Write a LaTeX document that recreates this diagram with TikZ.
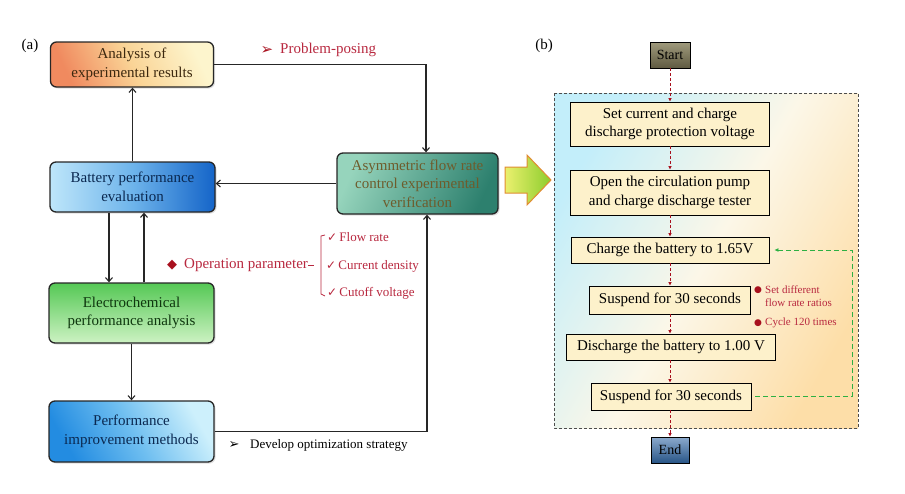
\documentclass[tikz,border=0pt]{standalone}
\usepackage{fontspec}
\setmainfont{Liberation Serif}
\newfontfamily\symf{DejaVu Sans}
\usetikzlibrary{arrows.meta,shadows,calc}
\definecolor{redtxt}{HTML}{B8283F}
\definecolor{dred}{HTML}{A8101E}
\definecolor{gdash}{HTML}{2DB043}
\definecolor{boxy}{HTML}{FDF1CB}
\newcommand\chkm{{\symf\fontsize{12}{12}\selectfont ✓}}
\begin{document}
\begin{tikzpicture}[x=1pt,y=-1pt,
  lbox/.style={draw=black!85, line width=1.3pt, rounded corners=6pt, align=center,
    font=\fontsize{15}{18.5}\selectfont, inner sep=2pt,
    drop shadow={opacity=0.25, shadow xshift=1.5pt, shadow yshift=-1.5pt}},
  rbox/.style={draw=black, line width=0.8pt, fill=boxy, align=center,
    font=\fontsize{15}{18.5}\selectfont, inner sep=2pt},
  arr/.style={draw=black!85, line width=1.1pt, -{Straight Barb[length=4pt,width=7pt]}},
  rarr/.style={draw=dred, line width=1pt, dash pattern=on 3pt off 2pt, -{Latex[length=3.5pt,width=3.5pt]}},
  garr/.style={draw=gdash, line width=1pt, dash pattern=on 5pt off 3pt, -{Latex[length=4pt,width=4pt]}},
  side/.style={font=\fontsize{13}{15}\selectfont, inner sep=0pt},
  lab/.style={font=\fontsize{15}{18}\selectfont, inner sep=0pt}]
\useasboundingbox (0,0) rectangle (905,493);

% ---------- panel (a) ----------
\node[lab] (la) at (30,46) {(a)};

\node[lbox, minimum width=163pt, minimum height=45pt, text={rgb,255:red,60;green,40;blue,15},
  left color={rgb,255:red,240;green,138;blue,95}, right color={rgb,255:red,253;green,245;blue,205},
  middle color={rgb,255:red,250;green,212;blue,150}, shading angle=115] (A) at (132,64.5)
  {Analysis of\\experimental results};
\node[lbox, minimum width=165pt, minimum height=50pt, text={rgb,255:red,10;green,40;blue,80},
  left color={rgb,255:red,190;green,230;blue,250}, right color={rgb,255:red,20;green,100;blue,200},
  middle color={rgb,255:red,110;green,180;blue,235}] (B) at (132.5,187)
  {Battery performance\\evaluation};
\node[lbox, minimum width=165pt, minimum height=60pt, text={rgb,255:red,15;green,55;blue,15},
  top color={rgb,255:red,85;green,200;blue,85}, bottom color={rgb,255:red,205;green,242;blue,195}] (C) at (131.5,313)
  {Electrochemical\\performance analysis};
\node[lbox, minimum width=165pt, minimum height=61pt, text={rgb,255:red,10;green,40;blue,80},
  left color={rgb,255:red,35;green,140;blue,225}, right color={rgb,255:red,205;green,240;blue,252},
  middle color={rgb,255:red,110;green,190;blue,240}, shading angle=120] (D) at (131.5,431.5)
  {Performance\\improvement methods};
\node[lbox, minimum width=161pt, minimum height=61pt, text={rgb,255:red,110;green,92;blue,44},
  left color={rgb,255:red,150;green,212;blue,188}, right color={rgb,255:red,45;green,128;blue,110}, shading angle=65] (E) at (417.5,183.5)
  {Asymmetric flow rate\\control experimental\\verification};

\draw[arr] (B.north) -- (B.north |- A.south);
\draw[arr] (A.east) -| ([xshift=8.5pt]E.north);
\draw[arr] (E.west) -- (E.west -| B.east);
\draw[arr] ([xshift=-23.5pt]B.south) -- ([xshift=-23.5pt]B.south |- C.north);
\draw[arr] ([xshift=12.5pt]C.north) -- ([xshift=12.5pt]C.north |- B.south);
\draw[arr] (C.south) -- (D.north);
\draw[arr] (D.east) -| ([xshift=9.5pt]E.south);

\node[lab, text=redtxt, anchor=west] (pp) at (280,50) {Problem-posing};
\node[inner sep=0pt, text=dred, font=\symf\fontsize{15}{15}\selectfont] (ppa) at (267,50) {➢};
\node[side, anchor=west] (dos) at (250,445) {Develop optimization strategy};
\node[inner sep=0pt, font=\symf\fontsize{13}{13}\selectfont] (dosa) at (234,445) {➢};

\node[inner sep=0pt, text=dred, font=\symf\fontsize{13}{13}\selectfont] (dia) at (172,265) {◆};
\node[lab, text=redtxt, anchor=west] (op) at (184,265) {Operation parameter};
\draw[redtxt, line width=0.8pt] (op.east) -- ++(6,0);
\draw[redtxt, line width=0.8pt] (325,235) -- (321,236) -- (321,294) -- (325,296);
\node[side, text=redtxt, anchor=west] (f1) at (327,237) {\chkm\,Flow rate};
\node[side, text=redtxt, anchor=west] (f2) at (326,266) {\chkm\,Current density};
\node[side, text=redtxt, anchor=west] (f3) at (327,293) {\chkm\,Cutoff voltage};

% big arrow
\draw[draw={rgb,255:red,225;green,140;blue,50}, line width=1pt,
  left color={rgb,255:red,235;green,240;blue,110}, right color={rgb,255:red,140;green,205;blue,45}]
  (505,167) -- (527,167) -- (527,155) -- (551,180) -- (527,205) -- (527,193) -- (505,193) -- cycle;

% ---------- panel (b) ----------
\node[lab] (lb) at (544,46) {(b)};
\draw[draw=black!70, line width=0.8pt, dash pattern=on 3pt off 2pt,
  left color={rgb,255:red,195;green,238;blue,250}, right color={rgb,255:red,253;green,222;blue,168},
  middle color={rgb,255:red,252;green,247;blue,232}, shading angle=60]
  (554,93) rectangle (858,428);

\node[draw=black, line width=0.8pt, minimum width=40pt, minimum height=26pt, inner sep=1pt,
  top color={rgb,255:red,160;green,155;blue,125}, bottom color={rgb,255:red,95;green,90;blue,65},
  font=\fontsize{14}{16}\selectfont] (S) at (670,55) {Start};
\node[rbox, minimum width=199pt, minimum height=44pt] (B1) at (670,124) {Set current and charge\\discharge protection voltage};
\node[rbox, minimum width=199pt, minimum height=45pt] (B2) at (670,192.5) {Open the circulation pump\\and charge discharge tester};
\node[rbox, minimum width=198pt, minimum height=26pt] (B3) at (670,250) {Charge the battery to 1.65V};
\node[rbox, minimum width=161pt, minimum height=28pt] (B4) at (670,300) {Suspend for 30 seconds};
\node[rbox, minimum width=209pt, minimum height=26pt] (B5) at (671,347) {Discharge the battery to 1.00 V};
\node[rbox, minimum width=160pt, minimum height=27pt] (B6) at (671,396.5) {Suspend for 30 seconds};
\node[draw=black, line width=0.8pt, minimum width=38pt, minimum height=26pt, inner sep=1pt,
  top color={rgb,255:red,140;green,170;blue,205}, bottom color={rgb,255:red,40;green,85;blue,135},
  font=\fontsize{14}{16}\selectfont] (En) at (670,450) {End};

\draw[rarr] (S.south) -- (S.south |- B1.north);
\draw[rarr] (B1.south) -- (B1.south |- B2.north);
\draw[rarr] (B2.south) -- (B2.south |- B3.north);
\draw[rarr] (B3.south) -- (B3.south |- B4.north);
\draw[rarr] (B4.south) -- (B4.south |- B5.north);
\draw[rarr] (B5.south -| B4.south) -- (B4.south |- B6.north);
\draw[rarr] (B6.south -| B4.south) -- (B4.south |- En.north);

\coordinate (gc) at (852,250);
\draw[garr, shorten >=5pt] ([xshift=4pt]B6.east) -| (gc) -- (B3.east);

\node[inner sep=0pt, text=dred, font=\symf\fontsize{9}{9}\selectfont] (d1) at (758,290) {●};
\node[inner sep=0pt, text=redtxt, anchor=west, align=left, font=\fontsize{11}{13}\selectfont] (t1) at (765,296.5) {Set different\\flow rate ratios};
\node[inner sep=0pt, text=dred, font=\symf\fontsize{9}{9}\selectfont] (d2) at (758,323) {●};
\node[inner sep=0pt, text=redtxt, anchor=west, font=\fontsize{11}{13}\selectfont] (t2) at (765,323) {Cycle 120 times};
\end{tikzpicture}
\end{document}
